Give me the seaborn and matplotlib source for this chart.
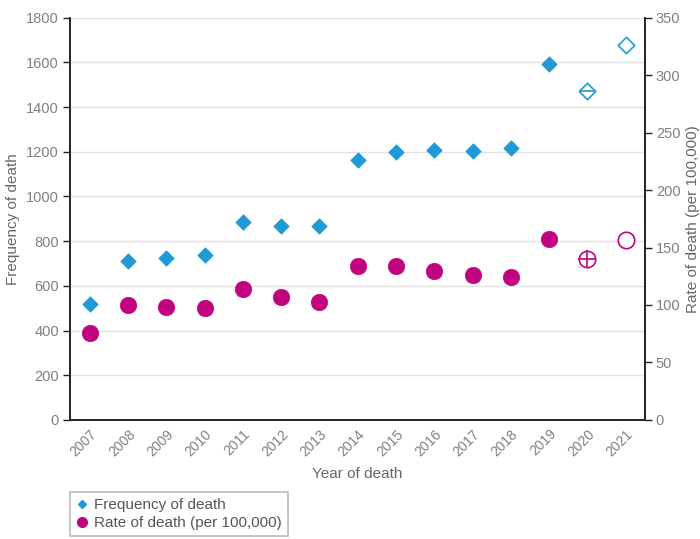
import numpy as np
import pandas as pd
import matplotlib
matplotlib.use("Agg")
import matplotlib.pyplot as plt
import seaborn as sns
from matplotlib.lines import Line2D

sns.set_theme(style="white")
plt.rcParams['font.family'] = ['Liberation Sans Narrow', 'Liberation Sans', 'DejaVu Sans']

# data
years = ["2007", "2008", "2009", "2010", "2011", "2012", "2013", "2014",
         "2015", "2016", "2017", "2018", "2019", "2020", "2021"]
frequency = [520, 712, 725, 737, 885, 866, 866, 1165, 1200, 1207, 1205, 1218, 1593, 1472, 1680]
rate = [75.6, 100, 98.6, 97.6, 114, 107, 103, 134, 134, 130, 126, 124, 157.5, 140, 156.5]
open_years = ["2020", "2021"]   # hollow markers
crossed_years = ["2020"]        # hollow marker with a line through it

blue = "#1f9ad6"
magenta = "#c2037f"
grey = "#808080"

df = pd.DataFrame({"year": years, "freq": frequency, "rate": rate})
df["x"] = np.arange(len(df))
solid = df[~df["year"].isin(open_years)]
hollow = df[df["year"].isin(open_years)]
crossed = df[df["year"].isin(crossed_years)]

fig = plt.figure(figsize=(7, 5.39), dpi=100)
ax = fig.add_axes([0.1, 0.221, 0.821, 0.746])
ax2 = ax.twinx()

# frequency (left axis)
sns.scatterplot(data=solid, x="x", y="freq", ax=ax, marker="D", s=62, color=blue,
                edgecolor=blue, linewidth=0.5)
sns.scatterplot(data=hollow, x="x", y="freq", ax=ax, marker="D", s=70, facecolor="white",
                edgecolor=blue, linewidth=1.2)
sns.scatterplot(data=crossed, x="x", y="freq", ax=ax, marker="_", s=110, color=blue,
                linewidth=1.2)

# rate (right axis)
sns.scatterplot(data=solid, x="x", y="rate", ax=ax2, marker="o", s=140, color=magenta,
                edgecolor=magenta, linewidth=0.5)
sns.scatterplot(data=hollow, x="x", y="rate", ax=ax2, marker="o", s=140, facecolor="white",
                edgecolor=magenta, linewidth=1.2)
sns.scatterplot(data=crossed, x="x", y="rate", ax=ax2, marker="+", s=150, color=magenta,
                linewidth=1.2)

ax.set_xlim(-0.52, 14.5)
ax.set_ylim(0, 1800)
ax2.set_ylim(0, 350)
ax.set_yticks(range(0, 1801, 200))
ax2.set_yticks(range(0, 351, 50))
ax.set_xticks(df["x"])
ax.set_xticklabels(years, rotation=45, ha="right", rotation_mode="anchor")

ax.grid(axis="y", color="#e3e3e3", linewidth=1)
ax.set_axisbelow(True)

for a in (ax, ax2):
    a.spines["top"].set_visible(False)
    for s in ("left", "right", "bottom"):
        a.spines[s].set_color("#222222")
        a.spines[s].set_linewidth(1.2)
    a.tick_params(axis="y", labelsize=10.5, length=5, width=1, pad=3,
                  color="#222222", labelcolor=grey)
ax.tick_params(axis="x", length=0, labelsize=10, labelcolor=grey, pad=5)

ax.set_xlabel("Year of death", fontsize=11, color="#666666", labelpad=6)
ax.set_ylabel("Frequency of death", fontsize=11, color="#666666", labelpad=4)
ax2.set_ylabel("Rate of death (per 100,000)", fontsize=11, color="#666666", labelpad=4)

handles = [
    Line2D([], [], marker="D", linestyle="none", color=blue, markersize=4.5),
    Line2D([], [], marker="o", linestyle="none", color=magenta, markersize=7),
]
leg = fig.legend(handles, ["Frequency of death", "Rate of death (per 100,000)"],
                 loc="upper left", bbox_to_anchor=(0.1, 0.087), borderaxespad=0,
                 frameon=True, fontsize=11, handlelength=0.8, handletextpad=0.4,
                 borderpad=0.4, labelspacing=0.25, fancybox=False)
leg.get_frame().set_edgecolor("#aaaaaa")
leg.get_frame().set_linewidth(1.2)
for t in leg.get_texts():
    t.set_color("#555555")

fig.savefig("out.png", dpi=100)
